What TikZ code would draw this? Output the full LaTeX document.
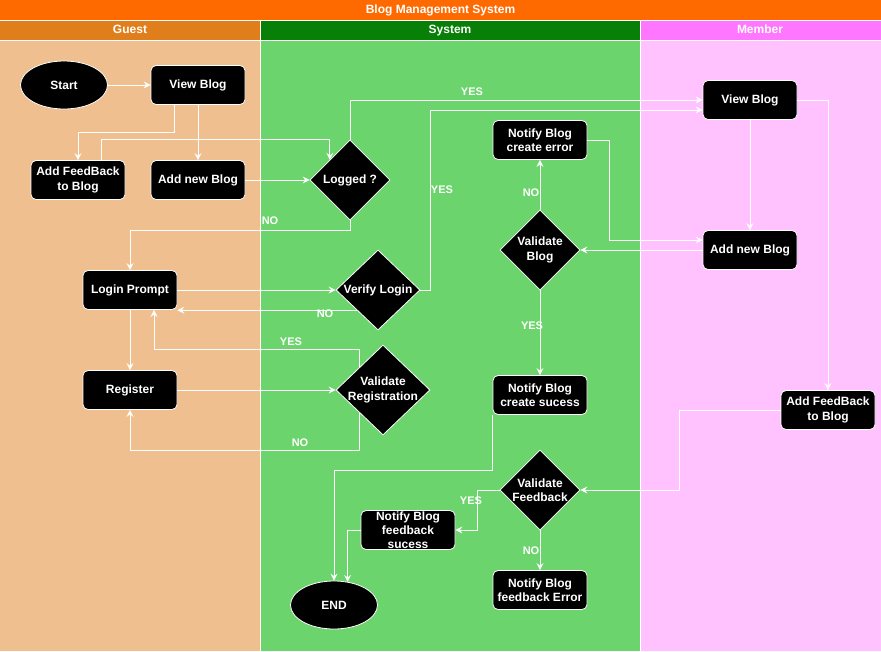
\documentclass[tikz,border=0pt]{standalone}
\usepackage{fontspec}
\setmainfont{Liberation Sans}
\usetikzlibrary{shapes.geometric,arrows.meta,calc}

\definecolor{titleorange}{HTML}{FF6A00}
\definecolor{guesthead}{HTML}{E07E1C}
\definecolor{guestbody}{HTML}{F0BF8F}
\definecolor{syshead}{HTML}{088008}
\definecolor{sysbody}{HTML}{6CD46C}
\definecolor{memhead}{HTML}{FF77FF}
\definecolor{membody}{HTML}{FFC2FF}

\tikzset{
  txt/.style={text=white,font=\bfseries\fontsize{12}{14.5}\selectfont,align=center},
  box/.style={txt,draw=white,fill=black,rounded corners=5pt,minimum width=94pt,minimum height=39pt,inner sep=1pt,line width=0.8pt},
  oval/.style={txt,draw=white,fill=black,ellipse,minimum width=87pt,minimum height=48pt,inner sep=0pt,line width=0.8pt},
  decision/.style={draw=white,fill=black,diamond,minimum width=80pt,minimum height=80pt,inner sep=0pt,line width=0.8pt},
  arr/.style={draw=white,line width=1pt,-{Stealth[length=7pt,width=7pt,inset=2.5pt]}},
  lbl/.style={text=white,font=\bfseries\fontsize{11}{13}\selectfont,inner sep=0pt,text height=8pt,text depth=0pt},
  lanetitle/.style={text=white,font=\bfseries\fontsize{12}{14}\selectfont,inner sep=0pt,text height=9pt,text depth=2.5pt},
  sep/.style={draw=white,line width=1pt},
}

\begin{document}
\begin{tikzpicture}[x=1pt,y=-1pt]
\useasboundingbox (0,0) rectangle (881,651);

% swimlane pool
\fill[titleorange] (0,0) rectangle (881,20);
\fill[guesthead] (0,20) rectangle (260,40);
\fill[syshead] (260,20) rectangle (640,40);
\fill[memhead] (640,20) rectangle (881,40);
\fill[guestbody] (0,40) rectangle (260,651);
\fill[sysbody] (260,40) rectangle (640,651);
\fill[membody] (640,40) rectangle (881,651);
\draw[sep] (0,20) -- (881,20);
\draw[sep] (0,40) -- (881,40);
\draw[sep] (260,20) -- (260,651);
\draw[sep] (640,20) -- (640,651);

\node[lanetitle] (ttl) at (440.5,10) {Blog Management System};
\node[lanetitle] (tguest) at (130,30) {Guest};
\node[lanetitle] (tsys) at (450,30) {System};
\node[lanetitle] (tmem) at (760,30) {Member};

% guest lane
\node[oval] (start) at (64,85) {Start};
\node[box] (viewG) at (198,85) {View Blog};
\node[box] (fbG) at (78,180) {Add FeedBack\\to Blog};
\node[box] (addG) at (198,180) {Add new Blog};
\node[box] (login) at (130,290) {Login Prompt};
\node[box] (reg) at (130,390) {Register};

% system lane
\node[decision,label={[txt]center:Logged ?}] (logged) at (350,180) {};
\node[decision,minimum width=84pt,label={[txt]center:Verify Login}] (verify) at (378,290) {};
\node[decision,minimum width=94pt,minimum height=90pt,label={[txt]center:{Validate\\Registration}}] (valreg) at (383,390) {};
\node[box] (err) at (540,140) {Notify Blog\\create error};
\node[decision,label={[txt]center:{Validate\\Blog}}] (valblog) at (540,250) {};
\node[box] (suc) at (540,395) {Notify Blog\\create sucess};
\node[decision,label={[txt]center:{Validate\\Feedback}}] (valfb) at (540,490) {};
\node[box,font=\bfseries\fontsize{12}{14}\selectfont] (fsuc) at (408,530) {Notify Blog\\feedback\\sucess};
\node[box] (ferr) at (540,590) {Notify Blog\\feedback Error};
\node[oval] (end) at (334,605) {END};

% member lane
\node[box] (viewM) at (750,100) {View Blog};
\node[box] (addM) at (750,250) {Add new Blog};
\node[box] (fbM) at (828,410) {Add FeedBack\\to Blog};

% connectors
\draw[arr] (start) -- (viewG);
\draw[arr] (viewG.south) -- (addG.north);
\draw[arr] ($(viewG.south)+(-24,0)$) -- ++(0,27.5) -| (fbG.north);
\draw[arr] ($(fbG.north)+(23,0)$) -- ++(0,-20.5) -| (logged.north west);
\draw[arr] (addG.east) -- (logged.west);
\draw[arr] (logged.north) |- (viewM.west);
\draw[arr] (logged.south) -- ++(0,10) -| (login.north);
\draw[arr] (login.east) -- (verify.west);
\draw[arr] (verify.south west) -- (login.east |- verify.south west);
\draw[arr] (verify.east) -- ++(10,0) |- ($(viewM.west)+(0,10)$);
\draw[arr] (login.south) -- (reg.north);
\draw[arr] (reg.east) -- (valreg.west);
\draw[arr] (valreg.north west) -- ++(0,-17.5) -| ($(login.south)+(24,0)$);
\draw[arr] (valreg.south west) -- ++(0,37.5) -| (reg.south);
\draw[arr] (addM.west) -- (valblog.east);
\draw[arr] (err.east) -- ++(22,0) |- ($(addM.west)+(0,-10)$);
\draw[arr] (viewM.south) -- (addM.north);
\draw[arr] (viewM.east) -| (fbM.north);
\draw[arr] (valblog.north) -- (err.south);
\draw[arr] (valblog.south) -- (suc.north);
\draw[arr] (suc.south west) -- ++(0,55.5) -| (end.north);
\draw[arr] (fbM.west) -- ++(-101,0) |- (valfb.east);
\draw[arr] (valfb.west) -- ++(-22,0) |- (fsuc.east);
\draw[arr] (valfb.south) -- (ferr.north);
\draw[arr,shorten >=-1.3pt] (fsuc.west) -- ++(-13,0) coordinate (fdrop) -- (fdrop |- end.north);

% branch labels
\node[lbl] (l1) at (472,91) {YES};
\node[lbl] (l2) at (270,220) {NO};
\node[lbl] (l3) at (442,189) {YES};
\node[lbl] (l4) at (325,313) {NO};
\node[lbl] (l5) at (291,341) {YES};
\node[lbl] (l6) at (300,442) {NO};
\node[lbl] (l7) at (531,192) {NO};
\node[lbl] (l8) at (532,325) {YES};
\node[lbl] (l9) at (471,500) {YES};
\node[lbl] (l10) at (531,550) {NO};
\end{tikzpicture}
\end{document}
